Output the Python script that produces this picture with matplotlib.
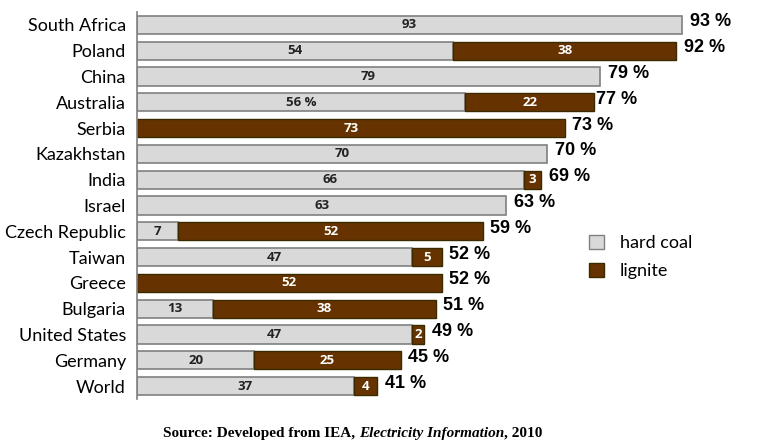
import numpy as np
import matplotlib.pyplot as plt
from matplotlib.patches import Patch

countries = ['South Africa', 'Poland', 'China', 'Australia', 'Serbia', 'Kazakhstan',
             'India', 'Israel', 'Czech Republic', 'Taiwan', 'Greece', 'Bulgaria',
             'United States', 'Germany', 'World']
hard_coal = [93, 54, 79, 56, 0, 70, 66, 63, 7, 47, 0, 13, 47, 20, 37]
lignite = [0, 38, 0, 22, 73, 0, 3, 0, 52, 5, 52, 38, 2, 25, 4]
totals = [93, 92, 79, 77, 73, 70, 69, 63, 59, 52, 52, 51, 49, 45, 41]
hard_labels = ['93', '54', '79', '56 %', '', '70', '66', '63', '7', '47', '', '13', '47', '20', '37']

GRAY = '#d9d9d9'
BROWN = '#663300'

W, H = 767, 444
fig = plt.figure(figsize=(W / 100, H / 100), dpi=100)
ax = fig.add_axes([137 / W, 45 / H, (W - 137) / W, (399 - 12) / H])

y = np.arange(len(countries))
hc = np.array(hard_coal)
lg = np.array(lignite)
m1 = hc > 0
m2 = lg > 0
ax.barh(y[m1], hc[m1], height=0.7, color=GRAY, edgecolor='#808080', linewidth=1.2)
ax.barh(y[m2], lg[m2], left=hc[m2], height=0.7, color=BROWN, edgecolor='#3a2a00', linewidth=1.0)

ax.set_xlim(0, (W - 137) / 5.86)
ax.set_ylim(len(countries) - 0.5, -0.5)

for i in range(len(countries)):
    if hard_coal[i] > 0:
        ax.text(hard_coal[i] / 2, i, hard_labels[i], ha='center', va='center',
                fontsize=9.5, fontweight='bold', family='Open Sans', color='#222222')
    if lignite[i] > 0:
        ax.text(hard_coal[i] + lignite[i] / 2, i, str(lignite[i]), ha='center', va='center',
                fontsize=9.5, fontweight='bold', family='Open Sans', color='white', clip_on=True)
    ax.text(totals[i] + 1.3, i - 0.12, f'{totals[i]} %', ha='left', va='center',
            fontsize=13, fontweight='bold', family='Liberation Sans', color='black')

ax.set_yticks(y)
ax.set_yticklabels(countries, fontsize=13, family='Lato')
ax.tick_params(axis='y', length=0, pad=8)
ax.set_xticks([])
for s in ['top', 'right', 'bottom']:
    ax.spines[s].set_visible(False)
ax.spines['left'].set_color('#808080')
ax.spines['left'].set_linewidth(1.2)

handles = [Patch(facecolor=GRAY, edgecolor='#808080', label='hard coal'),
           Patch(facecolor=BROWN, edgecolor='#3a2a00', label='lignite')]
fig.legend(handles=handles, loc='center left', bbox_to_anchor=(573 / W, 1 - 257 / H),
           frameon=False, prop={'family': 'Lato', 'size': 13}, handlelength=0.8,
           handleheight=0.8, handletextpad=0.9, labelspacing=0.65)

# source line with an italic piece
fig.canvas.draw()
r = fig.canvas.get_renderer()
parts = [('Source: Developed from IEA, ', 'normal'), ('Electricity Information', 'italic'),
         (', 2010', 'normal')]
texts = []
for s, st in parts:
    t = fig.text(0, 1 - 433 / H, s, fontsize=11, fontweight='bold', style=st,
                 family='Liberation Serif', va='center', ha='left')
    texts.append(t)
widths = [t.get_window_extent(r).width for t in texts]
x0 = (353 - sum(widths) / 2)
for t, w in zip(texts, widths):
    t.set_x(x0 / W)
    x0 += w

fig.savefig('out.png', dpi=100)
